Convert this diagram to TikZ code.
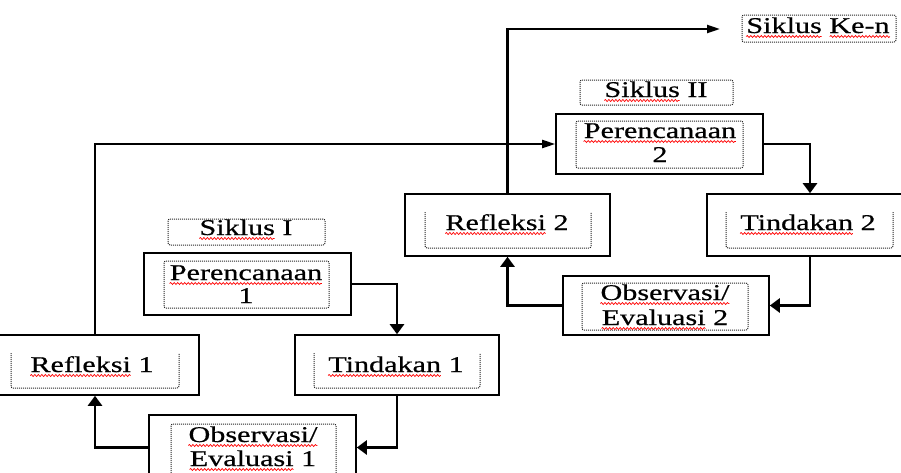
\documentclass[tikz,border=0pt]{standalone}
\usepackage{fontspec}
\setmainfont[FakeStretch=1.34,FakeBold=0.6]{Liberation Serif}
\usetikzlibrary{arrows.meta,decorations.pathmorphing}
\newcommand\sqL[2]{\draw[squig] ([yshift=-3.5pt]#1.base west) -- ++({width("#2")},0);}
\newcommand\sqR[2]{\draw[squig] ([yshift=-3.5pt]#1.base east) -- ++({-width("#2")},0);}
\begin{document}
\begin{tikzpicture}[x=1pt,y=-1pt,
  box/.style={draw,line width=1.6pt,inner sep=0pt},
  txt/.style={anchor=base,inner sep=0pt},
  dotbox/.style={draw=black!85,line width=1pt,dash pattern=on 1pt off 1pt,rounded corners=2pt},
  squig/.style={draw=red,line width=0.7pt,decorate,decoration={snake,amplitude=1pt,segment length=3.5pt}},
  con/.style={line width=2.8pt,-{Triangle[length=10pt,width=14pt]}},
  lng/.style={line width=2.2pt,-{Triangle[length=13pt,width=8pt]}}]
\fontsize{22.5}{25}\selectfont
\clip (0,0) rectangle (901,472);
% outer boxes
\node[box,minimum width=207pt,minimum height=62pt] (p1) at (247.5,284) {};
\node[box,minimum width=208pt,minimum height=60pt] (r1) at (95,365) {};
\node[box,minimum width=204pt,minimum height=60pt] (t1) at (397,365) {};
\node[box,minimum width=207pt,minimum height=65pt] (o1) at (252.5,447.5) {};
\node[box,minimum width=207pt,minimum height=60pt] (p2) at (659.5,144) {};
\node[box,minimum width=205pt,minimum height=62pt] (r2) at (507.5,225) {};
\node[box,minimum width=206pt,minimum height=62pt] (t2) at (810,225) {};
\node[box,minimum width=206pt,minimum height=59pt] (o2) at (666,305.5) {};
\coordinate (kn) at (720,29);
% dotted inner boxes
\draw[dotbox] (168,219) rectangle (325,245);
\draw[dotbox] (580,80) rectangle (733,105);
\draw[dotbox] (742,15) rectangle (896,42);
\draw[dotbox] (164,261) rectangle (329,308);
\draw[dotbox] (576,121) rectangle (743,168);
\draw[dotbox] (171,424) rectangle (336,482);
\draw[dotbox] (582,283) rectangle (748,330);
\draw[dotbox] (11,353) -- (11,388) -- (179,388) -- (179,353);
\draw[dotbox] (314,353) -- (314,388) -- (480,388) -- (480,353);
\draw[dotbox] (425,212) -- (425,248) -- (591,248) -- (591,212);
\draw[dotbox] (726,212) -- (726,248) -- (893,248) -- (893,212);
% texts
\node[txt] (s1) at (246,235) {Siklus I};
\node[txt] (s2) at (656,97) {Siklus II};
\node[txt] (sn) at (818,33) {Siklus Ke-n};
\node[txt] (p1a) at (246,280) {Perencanaan};
\node[txt] (p1b) at (246,303) {1};
\node[txt] (p2a) at (660,138) {Perencanaan};
\node[txt] (p2b) at (660,162) {2};
\node[txt] (r1t) at (92,372) {Refleksi 1};
\node[txt] (t1t) at (396,372) {Tindakan 1};
\node[txt] (r2t) at (507,230) {Refleksi 2};
\node[txt] (t2t) at (808,230) {Tindakan 2};
\node[txt] (o1a) at (253,442) {Observasi/};
\node[txt] (o1b) at (253,466) {Evaluasi 1};
\node[txt] (o2a) at (665,300) {Observasi/};
\node[txt] (o2b) at (665,325) {Evaluasi 2};
% spelling squiggles
\sqL{s1}{Siklus}
\sqL{s2}{Siklus}
\sqL{sn}{Siklus}
\sqR{sn}{Ke-n}
\sqL{p1a}{Perencanaan}
\sqL{p2a}{Perencanaan}
\sqL{r1t}{Refleksi}
\sqL{t1t}{Tindakan}
\sqL{r2t}{Refleksi}
\sqL{t2t}{Tindakan}
\sqL{o1a}{Observasi/}
\sqL{o1b}{Evaluasi}
\sqL{o2a}{Observasi/}
\sqL{o2b}{Evaluasi}
% connectors
\draw[con] (p1.east) -| (t1.north);
\draw[con] (t1.south) |- (o1.east);
\draw[con] (o1.west) -| (r1.south);
\draw[lng] (r1.north) |- (p2.west);
\draw[con] (p2.east) -| (t2.north);
\draw[con] (t2.south) |- (o2.east);
\draw[con] (o2.west) -| (r2.south);
\draw[lng] (r2.north) |- (kn);
\end{tikzpicture}
\end{document}
